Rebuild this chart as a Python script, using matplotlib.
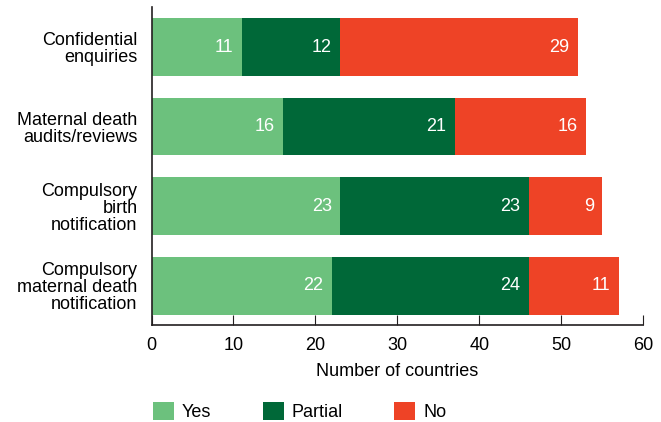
import matplotlib.pyplot as plt

plt.rcParams['font.family'] = ['Liberation Sans', 'DejaVu Sans']

categories = ['Confidential\nenquiries', 'Maternal death\naudits/reviews',
              'Compulsory\nbirth\nnotification', 'Compulsory\nmaternal death\nnotification']
yes = [11, 16, 23, 22]
partial = [12, 21, 23, 24]
no = [29, 16, 9, 11]

colors = ['#6cc17d', '#006838', '#ee4326']
labels = ['Yes', 'Partial', 'No']
fs = 13

fig = plt.figure(figsize=(6.61, 4.22), dpi=100)
ax = fig.add_axes([0.2292, 0.2287, 0.744, 0.754])

y = range(len(categories))
left = [0] * len(categories)
for vals, c, lab in zip([yes, partial, no], colors, labels):
    bars = ax.barh(y, vals, left=left, height=0.726, color=c, label=lab)
    for b, v in zip(bars, vals):
        ax.annotate(str(v), (b.get_x() + b.get_width(), b.get_y() + b.get_height() / 2),
                    xytext=(-6, 0), textcoords='offset points',
                    ha='right', va='center', color='white', fontsize=fs)
    left = [l + v for l, v in zip(left, vals)]

ax.set_yticks(list(y))
ax.set_yticklabels(categories, fontsize=fs, linespacing=1.0)
ax.set_ylim(3.5, -0.5)
ax.set_xlim(0, 60)
ax.set_xticks(range(0, 61, 10))
ax.tick_params(axis='x', direction='in', length=7, labelsize=fs, pad=8, color='#231f20')
ax.tick_params(axis='y', length=0, pad=10)
ax.set_xlabel('Number of countries', fontsize=fs, labelpad=7)
for s in ['top', 'right']:
    ax.spines[s].set_visible(False)
for s in ['left', 'bottom']:
    ax.spines[s].set_color('#231f20')
    ax.spines[s].set_linewidth(1.2)

fig.legend(loc='lower left', bbox_to_anchor=(0.207, -0.037), ncol=3, frameon=False,
           fontsize=fs, handlelength=1.15, handleheight=1.15, columnspacing=2.85,
           handletextpad=0.45)

fig.savefig('out.png', dpi=100)
